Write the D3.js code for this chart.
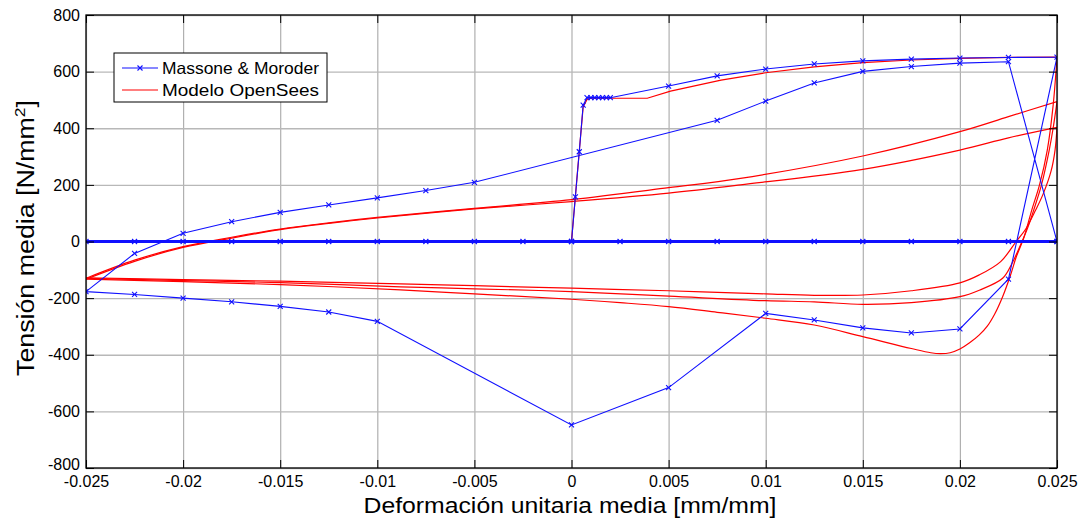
<!DOCTYPE html>
<html>
<head>
<meta charset="utf-8">
<script src="https://cdn.jsdelivr.net/npm/d3@7"></script>
<style>
  html, body { margin: 0; padding: 0; background: #fff; }
  svg { display: block; font-family: "Liberation Sans", Arial, sans-serif; }
</style>
</head>
<body>
<svg id="chart" width="1088" height="523"></svg>
<script>
// ---------- axis ticks ----------
const xTicks = [-0.025, -0.02, -0.015, -0.01, -0.005, 0, 0.005, 0.01, 0.015, 0.02, 0.025];
const xTickLabels = ["-0.025", "-0.02", "-0.015", "-0.01", "-0.005", "0", "0.005", "0.01", "0.015", "0.02", "0.025"];
const yTicks = [-800, -600, -400, -200, 0, 200, 400, 600, 800];
const yTickLabels = ["-800", "-600", "-400", "-200", "0", "200", "400", "600", "800"];

// ---------- Massone & Moroder (blue, markers) ----------
const massoneX = [0, 0.0002, 0.0004, 0.0006, 0.0008, 0.001, 0.0012, 0.0014, 0.0016, 0.0018, 0.002,
  0.005, 0.0075, 0.01, 0.0125, 0.015, 0.0175, 0.02, 0.0225, 0.025,
  0.0225, 0.02, 0.0175, 0.015, 0.0125, 0.01, 0.005, 0,
  -0.01, -0.0125, -0.015, -0.0175, -0.02, -0.0225, -0.025,
  -0.0225, -0.02, -0.0175, -0.015, -0.0125, -0.01, -0.0075, -0.005,
  0.0075, 0.01, 0.0125, 0.015, 0.0175, 0.02, 0.0225, 0.025];
const massoneY = [0, 158, 317, 482, 508, 508, 508, 508, 508, 508, 508,
  549, 585, 609, 627, 638, 644, 648, 650, 651,
  -133, -309, -323, -305, -277, -254, -516, -648,
  -282, -249, -229, -213, -200, -187, -177,
  -42, 29, 70, 103, 129, 154, 180, 209,
  428, 496, 560, 601, 618, 630, 635, 0];
// points of the same series lying on zero stress
const massoneZeroX = [-0.025, -0.0225, -0.02, -0.0175, -0.015, -0.0125, -0.01, -0.0075, -0.005, -0.0025,
  0, 0.0025, 0.005, 0.0075, 0.01, 0.0125, 0.015, 0.0175, 0.02, 0.0225, 0.025];
const massoneZeroY = [0, 0, 0, 0, 0, 0, 0, 0, 0, 0, 0, 0, 0, 0, 0, 0, 0, 0, 0, 0, 0];

// ---------- Modelo OpenSees (red) ----------
const loadX = [0, 0.0003, 0.0006, 0.0008, 0.001, 0.0039, 0.0051, 0.0077, 0.01, 0.0125, 0.015, 0.0175, 0.02, 0.0225, 0.025];
const loadY = [0, 240, 475, 502, 506, 506, 531, 570, 596, 617, 632, 641, 647, 650, 651];

const unload1X = [0.025, 0.0248, 0.0245, 0.0241, 0.0237, 0.0233, 0.0229, 0.0226, 0.0222, 0.0218, 0.0214, 0.021, 0.0205, 0.02, 0.0195, 0.019, 0.0185, 0.0175,
  0.015, 0.0125, 0.01, 0.0075, 0.005, 0.0025, 0, -0.005, -0.0088, -0.015, -0.02, -0.025];
const unload1Y = [651, 480, 323, 200, 111, 15, -55, -120, -195, -255, -300, -330, -358, -380, -393, -396, -393, -378,
  -336, -295, -271, -250, -230, -216, -204, -185, -171, -152, -142, -133];

const reload1X = [-0.025, -0.0225, -0.02, -0.0175, -0.015, -0.0125, -0.01, -0.005, 0, 0.005, 0.0087, 0.015, 0.02, 0.0225, 0.025];
const reload1Y = [-130, -66, -18, 15, 44, 66, 85, 117, 148, 190, 223, 302, 388, 441, 494];

const unload2X = [0.025, 0.0248, 0.0246, 0.0242, 0.0238, 0.0235, 0.0232, 0.0227, 0.0222, 0.021, 0.02, 0.0175,
  0.015, 0.0125, 0.01, 0.005, 0, -0.005, -0.0088, -0.015, -0.02, -0.025];
const unload2Y = [494, 400, 323, 200, 111, 50, 0, -75, -130, -172, -195, -216,
  -222, -213, -209, -193, -177, -167, -160, -145, -138, -130];

const reload2X = [-0.025, -0.0225, -0.02, -0.0175, -0.015, -0.0125, -0.01, -0.005, 0, 0.005, 0.0087, 0.015, 0.02, 0.0225, 0.025];
const reload2Y = [-133, -70, -21, 12, 42, 64, 83, 115, 141, 171, 200, 255, 323, 366, 403];

const unload3X = [0.025, 0.0249, 0.0247, 0.0243, 0.0239, 0.0234, 0.0229, 0.0221, 0.021, 0.02, 0.0175,
  0.015, 0.0125, 0.01, 0.005, 0, -0.005, -0.0088, -0.015, -0.02, -0.025];
const unload3Y = [403, 323, 250, 170, 111, 45, 0, -71, -118, -146, -174,
  -189, -190, -185, -174, -165, -156, -150, -140, -135, -128];

const legendLabels = ["Massone & Moroder", "Modelo OpenSees"];

// ---------- drawing ----------
const W = 1088, H = 523;
const m = { l: 86, t: 15, r: 31, b: 55 };
const svg = d3.select("#chart");
const x = d3.scaleLinear().domain([-0.025, 0.025]).range([m.l, W - m.r]);
const y = d3.scaleLinear().domain([-800, 800]).range([H - m.b, m.t]);
const pw = W - m.l - m.r, ph = H - m.t - m.b;

// grid
svg.append("g").attr("transform", `translate(0,${H - m.b})`)
  .call(d3.axisBottom(x).tickValues(xTicks).tickSize(-ph).tickFormat(""))
  .call(g => { g.select(".domain").remove(); g.selectAll("line").attr("stroke", "#b0b0b0").attr("stroke-width", 1.2); });
svg.append("g").attr("transform", `translate(${m.l},0)`)
  .call(d3.axisLeft(y).tickValues(yTicks).tickSize(-pw).tickFormat(""))
  .call(g => { g.select(".domain").remove(); g.selectAll("line").attr("stroke", "#b8b8b8").attr("stroke-width", 1.4); });

const plot = svg.append("g");
const clip = svg.append("clipPath").attr("id", "clip").append("rect")
  .attr("x", m.l).attr("y", m.t).attr("width", pw).attr("height", ph);
plot.attr("clip-path", "url(#clip)");

function pts(xs, ys) { return xs.map((v, i) => [v, ys[i]]); }
const lineLin = d3.line().x(d => x(d[0])).y(d => y(d[1]));
const lineSmooth = d3.line().x(d => x(d[0])).y(d => y(d[1])).curve(d3.curveCatmullRom.alpha(0.5));

const red = "#ff0000", blue = "#1010ff";

// red model
plot.append("path").datum(pts(loadX, loadY)).attr("d", lineLin)
  .attr("fill", "none").attr("stroke", red).attr("stroke-width", 1.2);
[[unload1X, unload1Y], [reload1X, reload1Y], [unload2X, unload2Y], [reload2X, reload2Y], [unload3X, unload3Y]]
  .forEach(([xs, ys]) => {
    plot.append("path").datum(pts(xs, ys)).attr("d", lineSmooth)
      .attr("fill", "none").attr("stroke", red).attr("stroke-width", 1.2);
  });

// blue experimental
plot.append("path").datum(pts(massoneZeroX, massoneZeroY)).attr("d", lineLin)
  .attr("fill", "none").attr("stroke", blue).attr("stroke-width", 3);
plot.append("path").datum(pts(massoneX, massoneY)).attr("d", lineLin)
  .attr("fill", "none").attr("stroke", blue).attr("stroke-width", 1.1);

const marker = "M-2.5,-2.5L2.5,2.5M-2.5,2.5L2.5,-2.5";
plot.append("g").selectAll("path").data(pts(massoneX, massoneY).concat(pts(massoneZeroX, massoneZeroY)))
  .join("path").attr("d", marker)
  .attr("transform", d => `translate(${x(d[0])},${y(d[1])})`)
  .attr("fill", "none").attr("stroke", blue).attr("stroke-width", 1.1);

// axes (inner ticks, box)
const tickLen = 8;
function styleAxis(g) {
  g.select(".domain").remove();
  g.selectAll("line").attr("stroke", "#000").attr("stroke-width", 1);
  g.selectAll("text").attr("font-size", 16).attr("fill", "#000")
    .attr("font-family", "'Liberation Sans', Arial, sans-serif");
}
svg.append("g").attr("transform", `translate(0,${H - m.b})`)
  .call(d3.axisBottom(x).tickValues(xTicks).tickFormat((d, i) => xTickLabels[i]).tickSizeInner(-tickLen).tickSizeOuter(0).tickPadding(8))
  .call(styleAxis);
svg.append("g").attr("transform", `translate(0,${m.t})`)
  .call(d3.axisTop(x).tickValues(xTicks).tickFormat("").tickSizeInner(-tickLen).tickSizeOuter(0))
  .call(styleAxis);
svg.append("g").attr("transform", `translate(${m.l},0)`)
  .call(d3.axisLeft(y).tickValues(yTicks).tickFormat((d, i) => yTickLabels[i]).tickSizeInner(-tickLen).tickSizeOuter(0).tickPadding(6))
  .call(styleAxis)
  .call(g => g.selectAll(".tick").filter(d => d === -800).select("text").attr("dy", "0.1em"));
svg.append("g").attr("transform", `translate(${W - m.r},0)`)
  .call(d3.axisRight(y).tickValues(yTicks).tickFormat("").tickSizeInner(-tickLen).tickSizeOuter(0))
  .call(styleAxis);

svg.append("rect").attr("x", m.l).attr("y", m.t).attr("width", pw).attr("height", ph)
  .attr("fill", "none").attr("stroke", "#000").attr("stroke-width", 1.3);

// axis titles
svg.append("text").attr("x", 570).attr("y", 513).attr("text-anchor", "middle")
  .attr("font-size", 22).attr("textLength", 413).attr("lengthAdjust", "spacingAndGlyphs")
  .text("Deformación unitaria media [mm/mm]");
const yl = svg.append("text").attr("transform", "translate(34,238) rotate(-90)")
  .attr("text-anchor", "middle").attr("font-size", 23)
  .attr("textLength", 276).attr("lengthAdjust", "spacingAndGlyphs");
yl.append("tspan").text("Tensión media [N/mm");
yl.append("tspan").attr("font-size", 15).attr("dy", -9).text("2");
yl.append("tspan").attr("dy", 9).text("]");

// legend
const lg = svg.append("g");
lg.append("rect").attr("x", 114).attr("y", 53).attr("width", 213).attr("height", 49)
  .attr("fill", "#fff").attr("stroke", "#000").attr("stroke-width", 1);
const legY = [68, 90];
const legColors = [blue, red];
legendLabels.forEach((t, i) => {
  lg.append("line").attr("x1", 122).attr("x2", 158).attr("y1", legY[i]).attr("y2", legY[i])
    .attr("stroke", legColors[i]).attr("stroke-width", 1.1);
  if (i === 0) lg.append("path").attr("d", marker).attr("transform", `translate(140,${legY[i]})`)
    .attr("fill", "none").attr("stroke", blue).attr("stroke-width", 1.1);
  lg.append("text").attr("x", 162).attr("y", legY[i]).attr("dy", "0.35em")
    .attr("font-size", 16.5).attr("textLength", 157).attr("lengthAdjust", "spacingAndGlyphs")
    .text(t);
});
</script>
</body>
</html>
